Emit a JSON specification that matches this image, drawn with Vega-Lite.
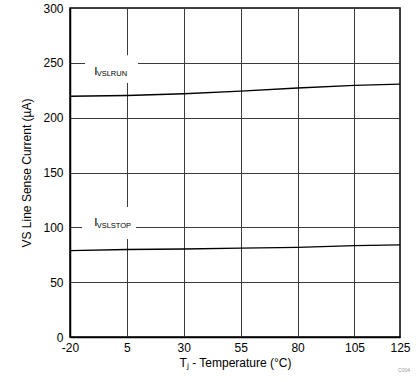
{
  "$schema": "https://vega.github.io/schema/vega-lite/v6.json",
  "width": 330,
  "height": 329,
  "autosize": {"type": "none"},
  "padding": {"left": 70, "top": 8, "right": 19, "bottom": 45},
  "background": "white",
  "config": {
    "font": "Liberation Sans",
    "view": {"stroke": "black", "strokeWidth": 1.5},
    "axis": {
      "grid": true,
      "gridColor": "#3a3a3a",
      "gridWidth": 1,
      "gridOpacity": 1,
      "domain": true,
      "domainColor": "black",
      "domainWidth": 1.5,
      "ticks": false,
      "labelFont": "Liberation Sans",
      "labelFontSize": 12,
      "labelColor": "black",
      "titleFont": "Liberation Sans",
      "titleFontSize": 12,
      "titleFontWeight": "normal",
      "titleColor": "black"
    }
  },
  "title": {
    "text": "C004",
    "orient": "bottom",
    "anchor": "end",
    "frame": "group",
    "fontSize": 5,
    "fontWeight": "normal",
    "color": "#999999",
    "offset": 0,
    "dx": 10
  },
  "datasets": {
    "curves": [
      {"series": "IVSLRUN", "temp": -20, "current": 219.5},
      {"series": "IVSLRUN", "temp": 5, "current": 220.2},
      {"series": "IVSLRUN", "temp": 30, "current": 221.8},
      {"series": "IVSLRUN", "temp": 55, "current": 224.2},
      {"series": "IVSLRUN", "temp": 80, "current": 227.0},
      {"series": "IVSLRUN", "temp": 105, "current": 229.4},
      {"series": "IVSLRUN", "temp": 125, "current": 230.6},
      {"series": "IVSLSTOP", "temp": -20, "current": 78.8},
      {"series": "IVSLSTOP", "temp": 5, "current": 79.8},
      {"series": "IVSLSTOP", "temp": 30, "current": 80.3},
      {"series": "IVSLSTOP", "temp": 55, "current": 81.0},
      {"series": "IVSLSTOP", "temp": 80, "current": 81.7},
      {"series": "IVSLSTOP", "temp": 105, "current": 83.3},
      {"series": "IVSLSTOP", "temp": 125, "current": 84.0}
    ],
    "labels": [
      {"x1": -13.4, "x2": 9.9, "y1": 231.6, "y2": 257, "main": "I", "sub": "VSLRUN", "tx": -9.3, "sx": -8.3, "ty": 238.9, "sy": 238.4},
      {"x1": -14.7, "x2": 9.0, "y1": 89.4, "y2": 118.5, "main": "I", "sub": "VSLSTOP", "tx": -9.3, "sx": -8.3, "ty": 101.2, "sy": 99.6}
    ]
  },
  "layer": [
    {
      "data": {"name": "curves"},
      "mark": {"type": "line", "color": "black", "strokeWidth": 1.4},
      "encoding": {
        "x": {
          "field": "temp",
          "type": "quantitative",
          "scale": {"domain": [-20, 125], "nice": false, "zero": false},
          "axis": {"values": [-20, 5, 30, 55, 80, 105, 125], "labelExpr": "toString(datum.value)", "title": "Tⱼ - Temperature (°C)", "labelPadding": 5, "titlePadding": 4, "labelFlush": false}
        },
        "y": {
          "field": "current",
          "type": "quantitative",
          "scale": {"domain": [0, 300], "nice": false},
          "axis": {"values": [0, 50, 100, 150, 200, 250, 300], "title": "VS Line Sense Current (µA)", "labelPadding": 7, "titlePadding": 9}
        },
        "detail": {"field": "series"}
      }
    },
    {
      "data": {"name": "labels"},
      "mark": {"type": "rect", "fill": "white"},
      "encoding": {
        "x": {"field": "x1", "type": "quantitative"},
        "x2": {"field": "x2"},
        "y": {"field": "y1", "type": "quantitative"},
        "y2": {"field": "y2"}
      }
    },
    {
      "data": {"name": "labels"},
      "mark": {"type": "text", "fontSize": 11.5, "align": "left", "baseline": "alphabetic", "color": "black"},
      "encoding": {
        "x": {"field": "tx", "type": "quantitative"},
        "y": {"field": "ty", "type": "quantitative"},
        "text": {"field": "main"}
      }
    },
    {
      "data": {"name": "labels"},
      "mark": {"type": "text", "fontSize": 7.5, "align": "left", "baseline": "alphabetic", "color": "black"},
      "encoding": {
        "x": {"field": "sx", "type": "quantitative"},
        "y": {"field": "sy", "type": "quantitative"},
        "text": {"field": "sub"}
      }
    }
  ]
}
